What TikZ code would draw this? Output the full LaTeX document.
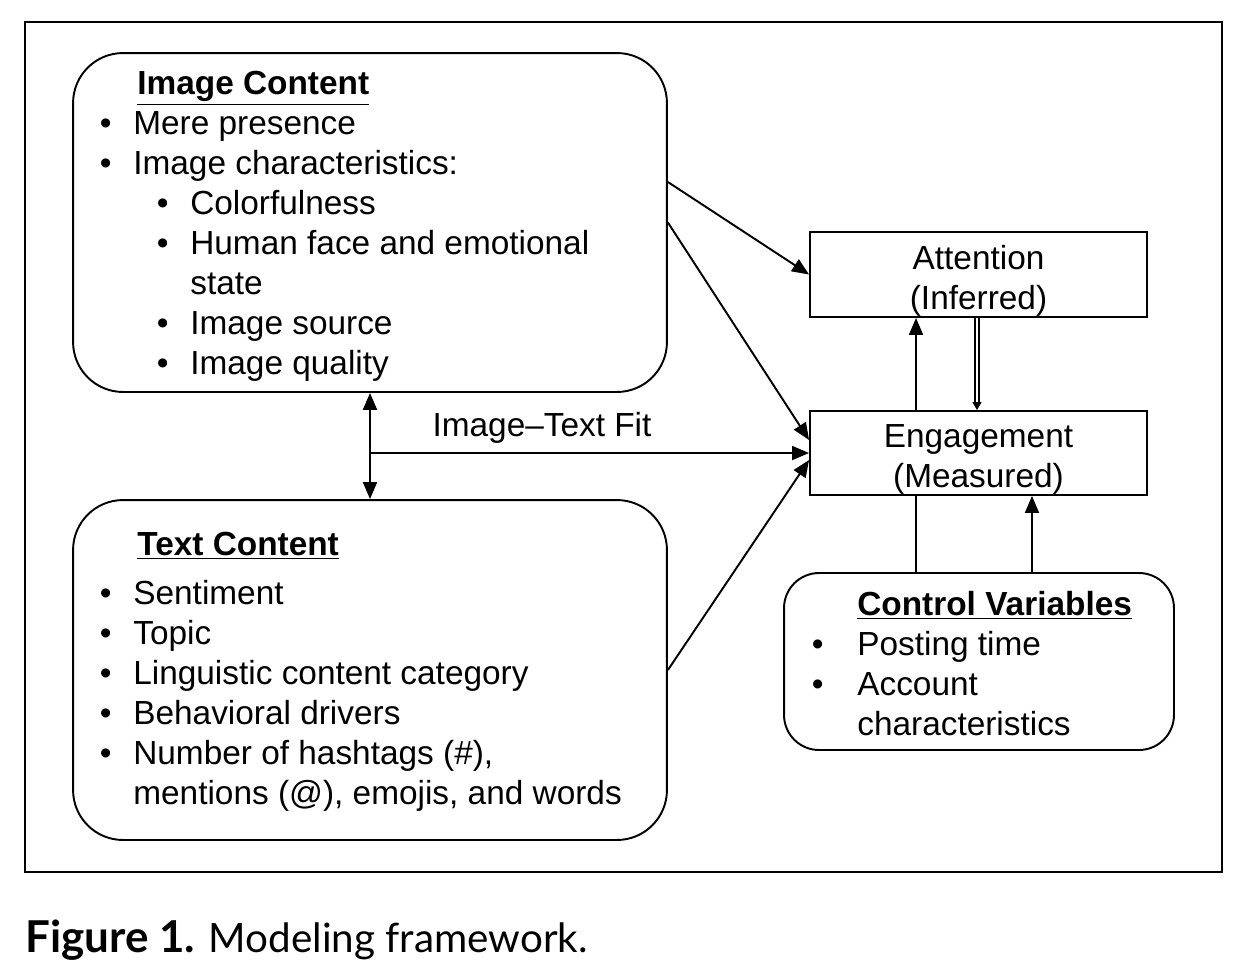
\documentclass[tikz,border=0pt]{standalone}
\usepackage{fontspec}
\setmainfont{Liberation Sans}
\newfontfamily\capfont{Lato}
\usetikzlibrary{positioning,arrows.meta}

\newcommand{\itm}[1]{\makebox[0.67cm][l]{\textbullet}#1}
\newcommand{\sitm}[1]{\hspace{1.14cm}\makebox[0.67cm][l]{\textbullet}#1}
\newcommand{\ttl}[2]{\hspace{#1}\underline{\textbf{#2}}}

\begin{document}
\begin{tikzpicture}[x=0.02cm, y=-0.02cm, font=\fontsize{19}{22.76}\selectfont,
  rbox/.style={draw, line width=1.1pt, rounded corners=1cm},
  sbox/.style={draw, line width=1.1pt},
  lbl/.style={align=center},
  txt/.style={align=left, inner sep=0pt, anchor=north west},
  arr/.style={line width=1.1pt, -{Triangle[length=0.34cm, width=0.28cm]}},
  dbl/.style={double, double distance=1.5pt, line width=0.7pt, -{Triangle[length=0.16cm, width=0.18cm]}}]
  \useasboundingbox (0,0) rectangle (1244,978);
  \draw[line width=1.1pt] (25,22) rectangle (1222,872);

  % boxes
  \node[rbox, minimum width=11.88cm, minimum height=6.78cm] (img) at (370,222.5) {};
  \node[rbox, minimum width=11.88cm, minimum height=6.8cm] (txt) at (370,670) {};
  \node[sbox, minimum width=6.74cm, minimum height=1.7cm] (att) at (978.5,274.5) {};
  \node[lbl] (att_text) at ([yshift=-0.12cm]att.center) {Attention\\(Inferred)};
  \node[sbox, minimum width=6.74cm, minimum height=1.68cm] (eng) at (978.5,453) {};
  \node[lbl] (eng_text) at ([yshift=-0.12cm]eng.center) {Engagement\\(Measured)};
  \node[rbox, rounded corners=0.7cm, minimum width=7.8cm, minimum height=3.54cm] (ctrl) at (979,661.5) {};

  % box contents
  \node[txt] (img_list) at (99.5,71) {\ttl{0.75cm}{Image Content}\\
    \itm{Mere presence}\\
    \itm{Image characteristics:}\\
    \sitm{Colorfulness}\\
    \sitm{Human face and emotional}\\
    \hspace{1.81cm}state\\
    \sitm{Image source}\\
    \sitm{Image quality}};
  \node[txt] (txt_list) at (99.5,532) {\ttl{0.75cm}{Text Content}\\[5pt]
    \itm{Sentiment}\\
    \itm{Topic}\\
    \itm{Linguistic content category}\\
    \itm{Behavioral drivers}\\
    \itm{Number of hashtags (\#),}\\
    \hspace{0.67cm}mentions (@), emojis, and words};
  \node[txt] (ctrl_list) at (811.5,591) {\ttl{0.91cm}{Control Variables}\\
    \makebox[0.91cm][l]{\textbullet}Posting time\\
    \makebox[0.91cm][l]{\textbullet}Account\\
    \hspace{0.91cm}characteristics};

  % connectors
  \coordinate (fit) at (img.south |- eng.west);
  \draw[arr] ([yshift=0.81cm]img.east) -- (att.west);
  \draw[arr] (img.east) -- ([yshift=0.26cm]eng.west);
  \draw[arr] (fit) -- (eng.west);
  \draw[arr] (txt.east) -- ([yshift=-0.14cm]eng.west);
  \draw[arr, {Triangle[length=0.34cm, width=0.28cm]}-{Triangle[length=0.34cm, width=0.28cm]}] (img.south) -- (txt.north);
  \node (fit_label) at (542,428) {Image--Text Fit};
  \draw[arr] ([xshift=-1.25cm]eng.north) -- ([xshift=-1.25cm]att.south);
  \draw[dbl] ([xshift=-0.03cm]att.south) -- ([xshift=-0.03cm]eng.north);
  \draw[line width=1.1pt] ([xshift=-1.26cm]ctrl.north) -- ([xshift=-1.25cm]eng.south);
  \draw[arr] ([xshift=1.06cm]ctrl.north) -- ([xshift=1.07cm]eng.south);

  % caption
  \node[anchor=base west, inner sep=0pt, font=\capfont\fontsize{23}{28}\selectfont] (caption) at (25,952) {{\fontsize{25}{28}\selectfont\textbf{Figure 1.}} Modeling framework.};
\end{tikzpicture}
\end{document}
